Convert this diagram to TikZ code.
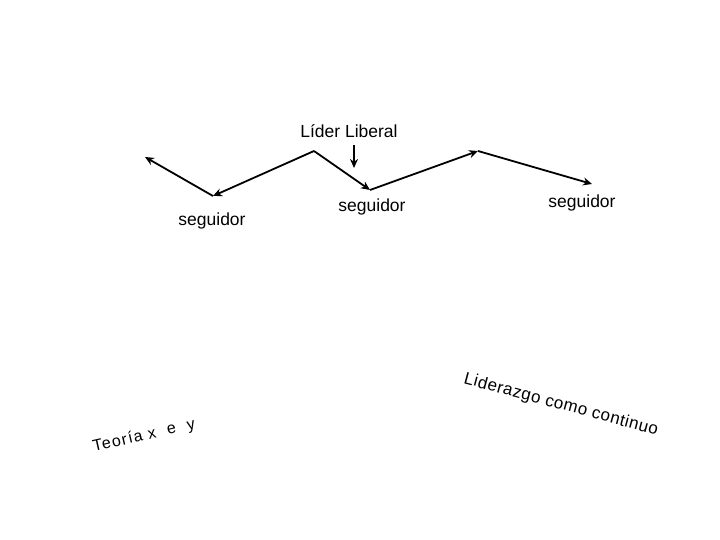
\documentclass[tikz,border=0pt]{standalone}
\usepackage{fontspec}
\setmainfont{Liberation Sans}
\usetikzlibrary{arrows.meta}
\begin{document}
\begin{tikzpicture}[x=1pt,y=1pt,
  conn/.style={line width=1.8pt,-{Stealth[length=9pt,width=8pt]}},
  lbl/.style={inner sep=0pt,font=\fontsize{17.5}{20}\selectfont}]
\useasboundingbox (0,0) rectangle (720,540);
\coordinate (a1) at (145,383);
\coordinate (b1) at (213,344);
\coordinate (p1) at (314,389);
\coordinate (b2) at (370,350);
\coordinate (p2) at (478,389);
\coordinate (e) at (592,356);
\coordinate (s1) at (354,395);
\coordinate (s2) at (354,372);
\draw[conn] (b1) -- (a1);
\draw[conn] (p1) -- (b1);
\draw[conn] (p1) -- (b2);
\draw[conn] (b2) -- (p2);
\draw[conn] (p2) -- (e);
\draw[conn] (s1) -- (s2);
\node[lbl] (lider) at (349,409) {Líder Liberal};
\node[lbl] (seg1) at (212,319) {seguidor};
\node[lbl] (seg2) at (372,333) {seguidor};
\node[lbl] (seg3) at (582,337) {seguidor};
\node[inner sep=0pt,rotate=13,font=\fontsize{16}{18}\selectfont\addfontfeature{LetterSpace=8}] (teoria) at (144,104) {Teoría x \ e \ y};
\node[inner sep=0pt,rotate=-15,font=\fontsize{17}{20}\selectfont\addfontfeature{LetterSpace=3}] (cont) at (561,135) {Liderazgo como continuo};
\end{tikzpicture}
\end{document}
